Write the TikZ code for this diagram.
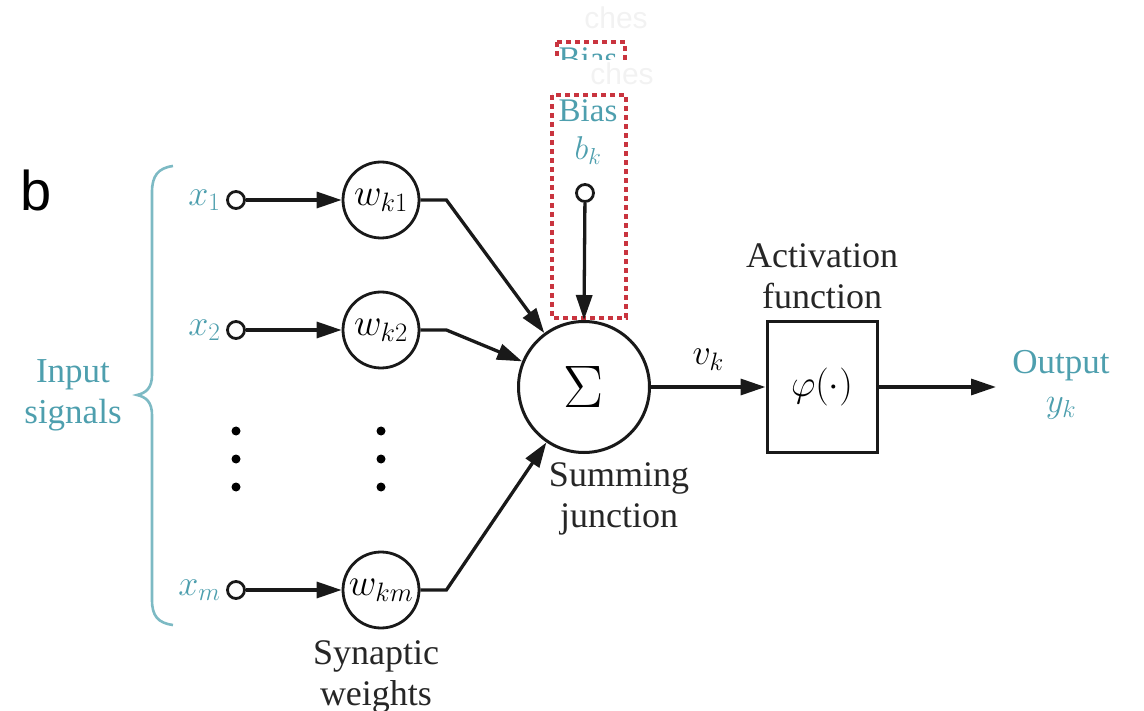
\RequirePackage{fix-cm}
\documentclass[tikz,border=0pt]{standalone}
\usepackage{fontspec}
\setmainfont{Liberation Serif}
\newfontfamily\labelsans{Liberation Sans}
\usetikzlibrary{arrows.meta}
\definecolor{tealtxt}{HTML}{4E9FAE}
\definecolor{bracec}{HTML}{7DBAC4}
\definecolor{biasred}{HTML}{C9343F}
\tikzset{
  wire/.style={line width=3.3pt, draw=black!90},
  arr/.style={wire, -{Triangle[length=25pt,width=16pt]}},
  term/.style={circle, draw=black!90, line width=2.8pt, minimum size=17pt, inner sep=0pt},
  weight/.style={circle, draw=black!90, line width=2.8pt, minimum size=76pt, inner sep=0pt, font=\fontsize{38}{44}\selectfont},
  tlabel/.style={text=tealtxt, font=\fontsize{35}{41}\selectfont, align=center},
  mlabel/.style={text=tealtxt, font=\fontsize{36}{40}\selectfont},
  blabel/.style={text=black!85, font=\fontsize{36}{41}\selectfont, align=center},
  biasbox/.style={draw=biasred, line width=3.2pt, dash pattern=on 5pt off 4pt},
  dotc/.style={circle, fill=black, minimum size=9pt, inner sep=0pt},
  ghost/.style={text=black!5, font=\labelsans\fontsize{30}{36}\selectfont}
}
\begin{document}
\begin{tikzpicture}[x=1pt,y=-1pt]
\useasboundingbox (0,0) rectangle (1144,711);
% faint artifacts at the top
\node[ghost] (g1) at (616,18) {ches};
\node[ghost] (g2) at (622,74) {ches};
\begin{scope}
  \clip (540,30) rectangle (640,60);
  \draw[biasbox] (557,42) -- (625,42) -- (625,80);
  \draw[biasbox] (557,42) -- (557,80);
  \node[text=tealtxt, font=\fontsize{33}{40}\selectfont, anchor=north] (biasg) at (588,44) {Bias};
\end{scope}
% panel letter
\node[font=\labelsans\fontsize{56}{60}\selectfont, text=black] (letter) at (36,190) {b};
% brace
\draw[draw=bracec, line width=2.6pt]
  (173,166) .. controls (158,168) and (152,176) .. (152,192) -- (152,375)
  .. controls (152,388) and (146,393) .. (137,395)
  .. controls (146,397) and (152,402) .. (152,415) -- (152,600)
  .. controls (152,616) and (158,623) .. (173,625);
\node[tlabel] (insig) at (73,395) {Input\\signals};
% inputs
\node[term] (t1) at (236,200) {};
\node[term] (t2) at (236,330) {};
\node[term] (tm) at (236,590) {};
\node[mlabel, anchor=east] (x1) at (224,200) {$x_1$};
\node[mlabel, anchor=east] (x2) at (224,330) {$x_2$};
\node[mlabel, anchor=east] (xm) at (224,590) {$x_m$};
% weights
\node[weight] (w1) at (381,200) {$w_{k1}$};
\node[weight] (w2) at (381,330) {$w_{k2}$};
\node[weight] (wm) at (381,590) {$w_{km}$};
\draw[arr] (t1) -- (w1);
\draw[arr] (t2) -- (w2);
\draw[arr] (tm) -- (wm);
% dots
\node[dotc] (d1) at (236,431) {};
\node[dotc] (d2) at (236,459) {};
\node[dotc] (d3) at (236,487) {};
\node[dotc] (d4) at (381,431) {};
\node[dotc] (d5) at (381,459) {};
\node[dotc] (d6) at (381,487) {};
\node[blabel] (syn) at (376,677) {Synaptic\\weights};
% summing junction
\node[circle, draw=black!90, line width=3pt, minimum size=131pt, inner sep=0pt,
      font=\fontsize{60}{64}\selectfont] (sum) at (584,387) {$\Sigma$};
\node[blabel] (sumlab) at (619,499) {Summing\\junction};
\draw[arr] (w1.east) -- ++(26,0) -- (sum);
\draw[arr] (w2.east) -- ++(26,0) -- (sum);
\draw[arr] (wm.east) -- ++(26,0) -- (sum);
% bias
\draw[biasbox] (552,95) rectangle (626,318);
\node[text=tealtxt, font=\fontsize{33}{40}\selectfont, align=center, anchor=north] (biaslab) at (588,96) {Bias\\[-2pt]$b_k$};
\node[term] (tb) at (585,193) {};
\draw[arr] (tb) -- (sum.north);
% activation
\node[draw=black!90, line width=3pt, minimum width=110pt, minimum height=130pt, inner sep=0pt,
      font=\fontsize{38}{44}\selectfont] (act) at (822,387) {$\varphi(\cdot)$};
\node[blabel] (actlab) at (822,276) {Activation\\function};
\draw[arr] (sum) -- (act) node[midway, above=12pt, text=black, font=\fontsize{36}{40}\selectfont] (vk) {$v_k$};
\coordinate (outend) at (996,387);
\draw[arr] (act) -- (outend);
\node[tlabel] (outlab) at (1061,385) {Output\\[-2pt]$y_k$};
\end{tikzpicture}
\end{document}
